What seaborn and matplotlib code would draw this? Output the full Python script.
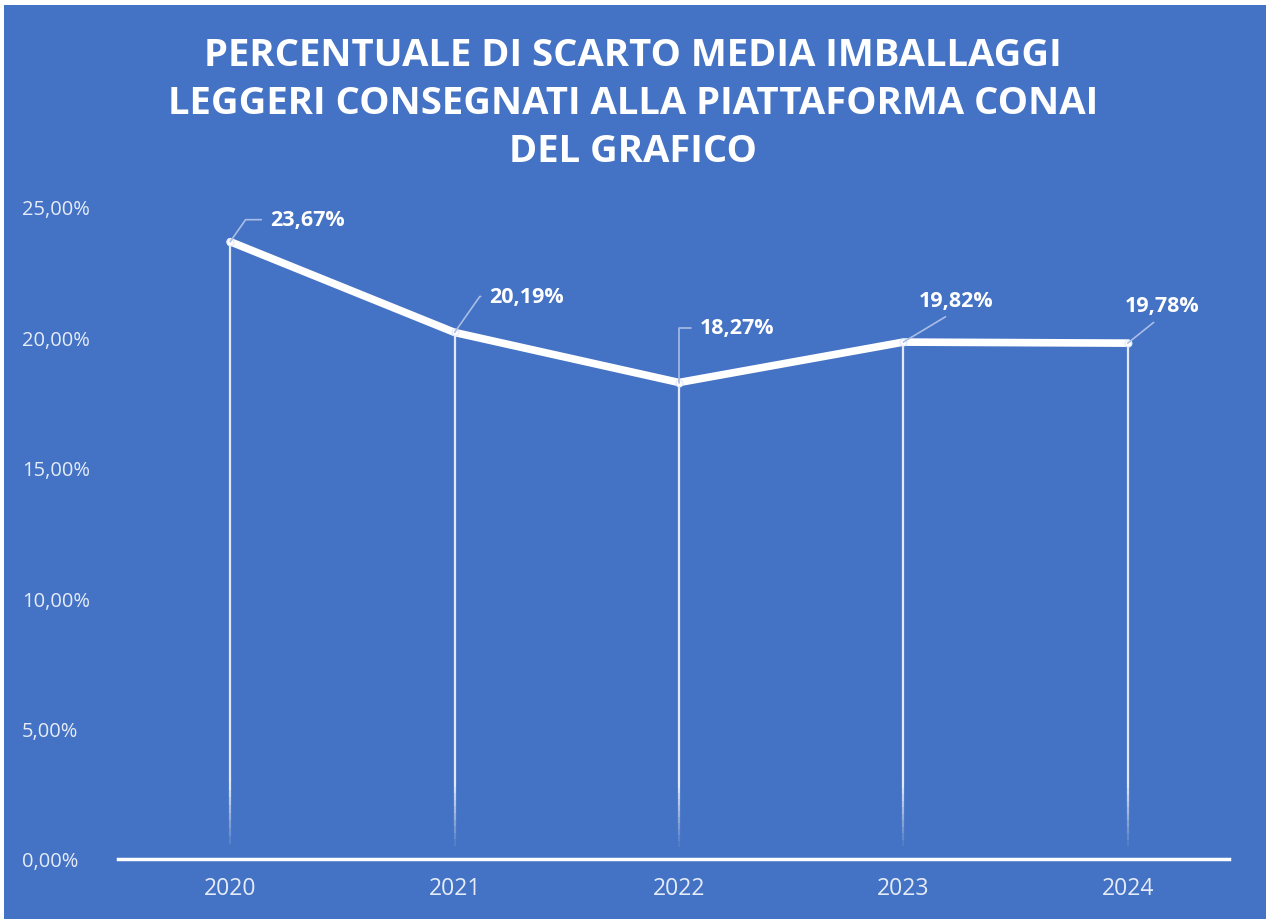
import numpy as np
import pandas as pd
import matplotlib.pyplot as plt
import seaborn as sns
from matplotlib.patches import Rectangle
from matplotlib.collections import LineCollection

# Data
years = ["2020", "2021", "2022", "2023", "2024"]
scarto = [23.67, 20.19, 18.27, 19.82, 19.78]
labels = ["23,67%", "20,19%", "18,27%", "19,82%", "19,78%"]
# label offsets in pixels (dx, dy) from each point, and leader line style
label_offsets = [(40, 22), (35, 36), (21, 55), (15, 42), (-3, 38)]
leader_style = ["elbow", "elbow", "corner", "straight", "straight"]

yticks = [0, 5, 10, 15, 20, 25]
ytick_labels = ["0,00%", "5,00%", "10,00%", "15,00%", "20,00%", "25,00%"]

bg = "#4472C4"
df = pd.DataFrame({"anno": years, "scarto": scarto})

sns.set_style("white")
plt.rcParams["font.family"] = ["Open Sans", "DejaVu Sans"]

fig = plt.figure(figsize=(12.66, 9.2), dpi=100, facecolor="white")
fig.patches.append(Rectangle((4 / 1266, 0), 1, 1 - 6 / 920, transform=fig.transFigure,
                             facecolor=bg, edgecolor="none", zorder=-5))
ax = fig.add_axes([118 / 1266, 60 / 920, (1240 - 118) / 1266, (860 - 208) / 920])
ax.set_facecolor("none")
ax.set_zorder(2)

x = np.arange(len(years))

# fading drop lines from each point down to the axis
for xi, yi in zip(x, scarto):
    n = 80
    ys = np.linspace(0, yi, n + 1)
    segs = [[(xi, ys[i]), (xi, ys[i + 1])] for i in range(n)]
    frac = ys[:-1] / 25.0
    alphas = np.clip((frac - 0.01) / 0.1, 0, 1) * 0.85
    cols = [(1, 1, 1, a) for a in alphas]
    ax.add_collection(LineCollection(segs, colors=cols, linewidths=1.6,
                                     capstyle="butt", zorder=2))

sns.lineplot(data=df, x=x, y="scarto", ax=ax, color="white", linewidth=5.5,
             marker="o", markersize=5, markeredgecolor="#dfe6f5", zorder=3)

for xi, yi, lab, (dx, dy), st in zip(x, scarto, labels, label_offsets, leader_style):
    if st == "elbow":
        arrow = dict(arrowstyle="-", color="#a9bde6", lw=1.2, shrinkA=4, shrinkB=0,
                     relpos=(0, 0.5), connectionstyle="angle,angleA=0,angleB=55,rad=0")
        ha, va = "left", "center"
    elif st == "corner":
        arrow = dict(arrowstyle="-", color="#a9bde6", lw=1.2, shrinkA=4, shrinkB=0,
                     relpos=(0, 0.5), connectionstyle="angle,angleA=0,angleB=90,rad=0")
        ha, va = "left", "center"
    else:
        arrow = dict(arrowstyle="-", color="#a9bde6", lw=1.2, shrinkA=4, shrinkB=0,
                     relpos=(0.5, 0), connectionstyle="arc3")
        ha, va = "left", "center"
    ax.annotate(lab, xy=(xi, yi), xytext=(dx, dy), textcoords="offset pixels",
                ha=ha, va=va, color="white", fontsize=15.5, fontweight="bold",
                arrowprops=arrow, zorder=4)

ax.set_xlim(-0.5, len(years) - 0.5)
ax.set_ylim(0, 25)
ax.set_xticks(x)
ax.set_xticklabels(years)
ax.set_yticks(yticks)
ax.set_yticklabels(ytick_labels)
ax.tick_params(axis="x", colors="#e6ecf8", labelsize=16.5, length=0, pad=12)
ax.tick_params(axis="y", colors="#e6ecf8", labelsize=14.5, length=0, pad=69)
for lab in ax.get_yticklabels():
    lab.set_horizontalalignment("left")
ax.set_xlabel("")
ax.set_ylabel("")
for side in ["top", "right", "left"]:
    ax.spines[side].set_visible(False)
ax.spines["bottom"].set_color("white")
ax.spines["bottom"].set_linewidth(2.5)
ax.spines["bottom"].set_bounds(-0.5, 4.45)

fig.text(0.5, 1 - 104 / 920,
         "PERCENTUALE DI SCARTO MEDIA IMBALLAGGI\nLEGGERI CONSEGNATI ALLA PIATTAFORMA CONAI\nDEL GRAFICO",
         ha="center", va="center", color="white", fontsize=27.5, fontweight="bold",
         linespacing=1.34)

plt.savefig("out.png", dpi=100, facecolor="white")
plt.close()
